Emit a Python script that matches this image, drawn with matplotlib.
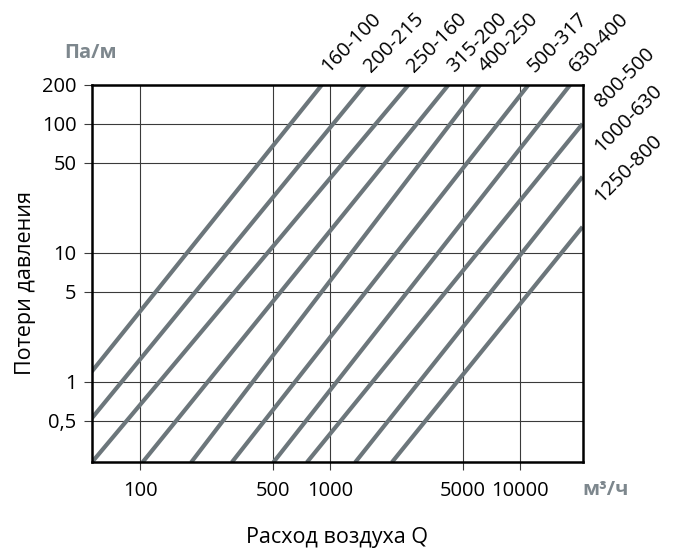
import matplotlib
matplotlib.use('Agg')
import matplotlib.pyplot as plt
from matplotlib.ticker import FixedLocator, NullLocator

plt.rcParams['font.family'] = ['Open Sans', 'DejaVu Sans']

# --- данные ---
labels = ['160-100', '200-215', '250-160', '315-200', '400-250',
          '500-317', '630-400', '800-500', '1000-630', '1250-800']
# начало и конец каждой линии (расход м3/ч, потери Па/м)
q_start = [55.4, 55.4, 55.4, 102.5, 185, 303, 502, 754, 1355, 2115]
p_start = [1.20, 0.521, 0.237, 0.237, 0.237, 0.237, 0.237, 0.237, 0.237, 0.237]
q_end = [904, 1529, 2587, 4203, 6175, 11100, 18410, 21430, 21430, 21430]
p_end = [200, 200, 200, 200, 200, 200, 200, 100, 38.9, 15.9]

x_ticks = [100, 500, 1000, 5000, 10000]
x_ticklabels = ['100', '500', '1000', '5000', '10000']
y_ticks = [0.5, 1, 5, 10, 50, 100, 200]
y_ticklabels = ['0,5', '1', '5', '10', '50', '100', '200']

LINE_COLOR = '#6c767b'
UNIT_COLOR = '#7d878d'
FS = 14.5

fig = plt.figure(figsize=(6.83, 5.57), dpi=100)
ax = fig.add_axes([0.1343, 0.1697, 0.7186, 0.6777])
ax.set_xscale('log')
ax.set_yscale('log')
ax.set_xlim(55.4, 21430)
ax.set_ylim(0.237, 200)

ax.xaxis.set_major_locator(FixedLocator(x_ticks))
ax.xaxis.set_minor_locator(NullLocator())
ax.set_xticklabels(x_ticklabels)
ax.yaxis.set_major_locator(FixedLocator(y_ticks))
ax.yaxis.set_minor_locator(NullLocator())
ax.set_yticklabels(y_ticklabels)

ax.grid(True, which='major', color='#3a3a3a', linewidth=0.8, zorder=1)
ax.tick_params(axis='both', length=6, width=0.8, color='#3a3a3a',
               labelsize=FS, labelcolor='black')
ax.tick_params(axis='x', pad=7)
ax.tick_params(axis='y', pad=5)
for sp in ax.spines.values():
    sp.set_linewidth(1.8)
    sp.set_color('black')
    sp.set_zorder(5)

# линии и подписи
for i, lab in enumerate(labels):
    ax.plot([q_start[i], q_end[i]], [p_start[i], p_end[i]],
            color=LINE_COLOR, linewidth=3.0, solid_capstyle='butt', zorder=3)
    if p_end[i] >= 200:
        off = (6, 12)
    else:
        off = (19, 16 if i == 7 else 24)
    ax.annotate(lab, xy=(q_end[i], p_end[i]), xytext=off,
                textcoords='offset pixels', rotation=45,
                rotation_mode='anchor', ha='left', va='baseline',
                fontsize=FS, annotation_clip=False)

# подписи осей
fig.text(64 / 683, 1 - 53 / 557, 'Па/м', color=UNIT_COLOR, fontsize=FS,
         fontweight='bold', ha='left', va='center')
fig.text(582 / 683, 1 - 490 / 557, 'м³/ч', color=UNIT_COLOR, fontsize=FS,
         fontweight='bold', ha='left', va='center')
fig.text(337 / 683, 1 - 537 / 557, 'Расход воздуха Q', fontsize=15.5,
         ha='center', va='center')
fig.text(26 / 683, 1 - 283 / 557, 'Потери давления', fontsize=15.5,
         ha='center', va='center', rotation=90)

fig.savefig('out.png', dpi=100, facecolor='white')
